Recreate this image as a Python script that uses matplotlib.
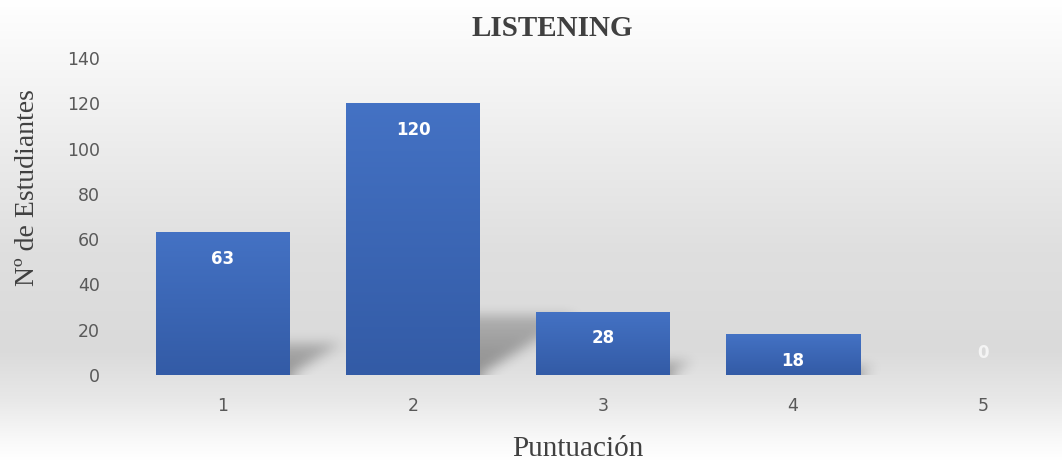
import numpy as np
import matplotlib
matplotlib.use("Agg")
import matplotlib.pyplot as plt
from matplotlib.colors import LinearSegmentedColormap

categories = ["1", "2", "3", "4", "5"]
values = [63, 120, 28, 18, 0]
yticks = [0, 20, 40, 60, 80, 100, 120, 140]
title = "LISTENING"
xlabel = "Puntuación"
ylabel = "Nº de Estudiantes"

W, H = 1062, 461
fig = plt.figure(figsize=(W / 100, H / 100), dpi=100)

# background gradient
bg = fig.add_axes([0, 0, 1, 1], zorder=-10)
bg.set_axis_off()
ys = np.array([0, 50, 120, 250, 350, 400, 440, 461]) / H
vals = np.array([1.0, 0.975, 0.94, 0.875, 0.855, 0.91, 0.975, 1.0])
yy = np.linspace(0, 1, 400)
col = np.interp(yy, ys, vals)
img = np.repeat(col[:, None], 2, axis=1)
img = np.dstack([img, img, img])
bg.imshow(img, aspect="auto", extent=[0, 1, 1, 0], origin="upper")
bg.set_xlim(0, 1)
bg.set_ylim(1, 0)

ax = fig.add_axes([128 / W, (H - 375) / H, (W - 128) / W, 317 / H])
ax.patch.set_alpha(0)
x = np.arange(1, len(categories) + 1)
width = 134 / 190
xmin, xmax = 0.5, 0.5 + (W - 128) / 190
bars = ax.bar(x, values, width=width, color="#3d68b8", zorder=2)

# soft cast shadows (derived from the bar geometry)
nx, ny = 934, 317
px_per_x = nx / (xmax - xmin)
px_per_y = ny / 140
gx = np.linspace(xmin, xmax, nx)
gy = np.linspace(0, 140, ny)
GX, GY = np.meshgrid(gx, gy)


def box_blur(a, r, axis):
    pad = [(r + 1, r) if i == axis else (0, 0) for i in range(2)]
    c = np.cumsum(np.pad(a, pad, mode="edge"), axis=axis)
    if axis == 1:
        return (c[:, 2 * r + 1:] - c[:, :-2 * r - 1]) / (2 * r + 1)
    return (c[2 * r + 1:, :] - c[:-2 * r - 1, :]) / (2 * r + 1)


alpha = np.zeros_like(GX)
for b in bars:
    h = b.get_height()
    if h <= 0:
        continue
    xl, xr = b.get_x(), b.get_x() + b.get_width()
    top = 0.22 * h
    d = (top * px_per_y / 0.62) / px_per_x
    sx = GX - (d / top) * GY
    inside = (GY <= top) & (sx >= xl) & (sx <= xr)
    a = np.where(inside, 0.36 * (1 - 0.45 * GY / top), 0.0)
    for _ in range(3):
        a = box_blur(a, 6, 1)
        a = box_blur(a, 5, 0)
    a = np.where(GX >= xr - 0.02, a, 0.0)
    alpha = np.maximum(alpha, a)

shadow = np.zeros((ny, nx, 4))
shadow[..., 3] = np.clip(alpha, 0, 1)
ax.imshow(shadow, extent=[xmin, xmax, 0, 140], origin="lower", aspect="auto", zorder=1)

cmap = LinearSegmentedColormap.from_list("b", ["#4472c4", "#335ba6"])
grad = np.linspace(0, 1, 256)[:, None]
for b in bars:
    h = b.get_height()
    if h <= 0:
        continue
    x0 = b.get_x()
    im = ax.imshow(grad, cmap=cmap, aspect="auto",
                   extent=[x0, x0 + b.get_width(), 0, h], origin="upper", zorder=3)
    im.set_clip_path(b)

ax.set_xlim(xmin, xmax)
ax.set_ylim(0, 140)
ax.set_yticks(yticks)
ax.set_xticks(x)
ax.set_xticklabels(categories)
for s in ax.spines.values():
    s.set_visible(False)
ax.tick_params(length=0, labelsize=12.5, colors="#595959")
ax.tick_params(axis="y", pad=20)
ax.tick_params(axis="x", pad=16)

for xi, v in zip(x, values):
    if v > 0:
        ax.annotate(str(v), (xi, v), xytext=(0, -19), textcoords="offset points",
                    ha="center", va="center", color="white", fontsize=12,
                    fontweight="bold", zorder=5)
    else:
        ax.annotate(str(v), (xi, 0), xytext=(0, 16), textcoords="offset points",
                    ha="center", va="center", color="#f4f4f4", fontsize=12,
                    fontweight="bold", zorder=5)

fig.text(552 / W, 1 - 28 / H, title, ha="center", va="center",
         family="Liberation Serif", fontweight="bold", fontsize=21, color="#404040")
fig.text(578 / W, 1 - 449 / H, xlabel, ha="center", va="center",
         family="Liberation Serif", fontsize=21, color="#404040")
fig.text(28 / W, 1 - 188 / H, ylabel, ha="center", va="center", rotation=90,
         family="Liberation Serif", fontsize=20, color="#404040")

fig.savefig("out.png", dpi=100)
